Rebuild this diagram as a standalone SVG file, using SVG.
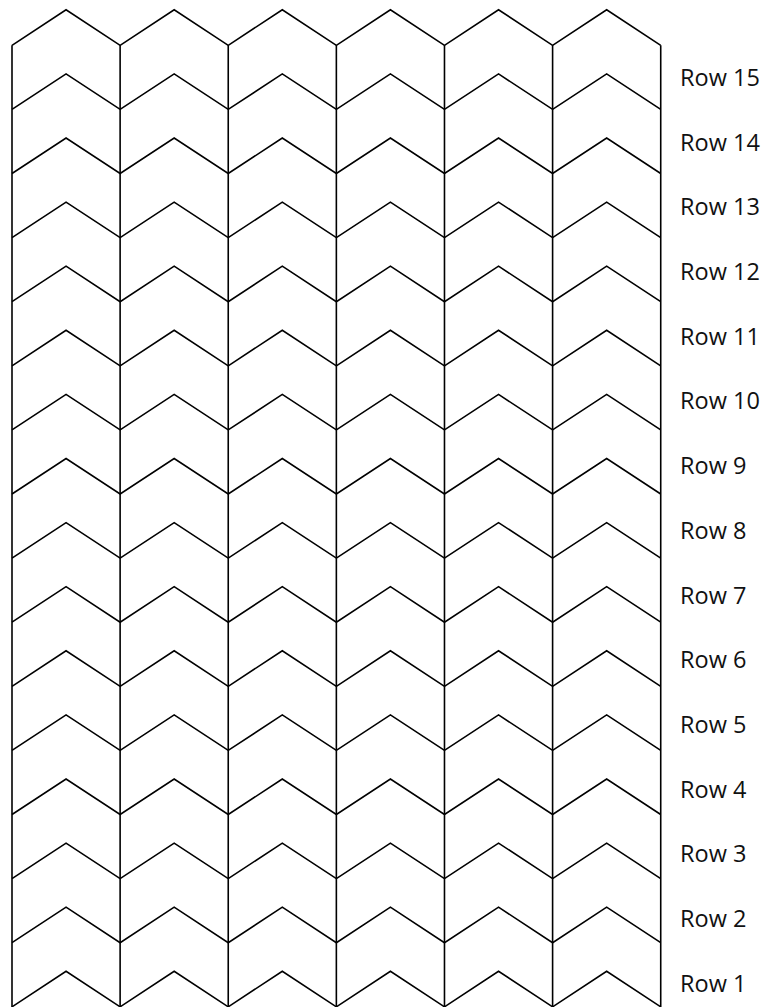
<svg xmlns="http://www.w3.org/2000/svg" xmlns:xlink="http://www.w3.org/1999/xlink" width="769" height="1007" viewBox="0 0 769 1007">
<style>
.ln{fill:none;stroke:#000;stroke-width:1.6;stroke-linejoin:miter}
.lbl{font-family:"Open Sans","DejaVu Sans",sans-serif;font-size:23.5px;fill:#111}
</style>
<defs>
<polyline id="chev" class="ln" points="12,0 66.06,-35.5 120.12,0 174.18,-35.5 228.24,0 282.3,-35.5 336.36,0 390.42,-35.5 444.48,0 498.54,-35.5 552.6,0 606.66,-35.5 660.72,0"/>
</defs>
<rect width="769" height="1007" fill="#fff"/>
<g id="verticals" class="ln">
<line x1="12" y1="45.3" x2="12" y2="1007"/>
<line x1="120.12" y1="45.3" x2="120.12" y2="1007"/>
<line x1="228.24" y1="45.3" x2="228.24" y2="1007"/>
<line x1="336.36" y1="45.3" x2="336.36" y2="1007"/>
<line x1="444.48" y1="45.3" x2="444.48" y2="1007"/>
<line x1="552.6" y1="45.3" x2="552.6" y2="1007"/>
<line x1="660.72" y1="45.3" x2="660.72" y2="1007"/>
</g>
<g id="chevrons">
<use xlink:href="#chev" y="45.3"/>
<use xlink:href="#chev" y="109.4"/>
<use xlink:href="#chev" y="173.5"/>
<use xlink:href="#chev" y="237.6"/>
<use xlink:href="#chev" y="301.7"/>
<use xlink:href="#chev" y="365.8"/>
<use xlink:href="#chev" y="429.9"/>
<use xlink:href="#chev" y="494.0"/>
<use xlink:href="#chev" y="558.1"/>
<use xlink:href="#chev" y="622.2"/>
<use xlink:href="#chev" y="686.3"/>
<use xlink:href="#chev" y="750.4"/>
<use xlink:href="#chev" y="814.5"/>
<use xlink:href="#chev" y="878.6"/>
<use xlink:href="#chev" y="942.7"/>
<use xlink:href="#chev" y="1006.8"/>
</g>
<g id="labels" class="lbl">
<text x="680" y="86">Row 15</text>
<text x="680" y="150.7">Row 14</text>
<text x="680" y="215.4">Row 13</text>
<text x="680" y="280.1">Row 12</text>
<text x="680" y="344.8">Row 11</text>
<text x="680" y="409.4">Row 10</text>
<text x="680" y="474.1">Row 9</text>
<text x="680" y="538.8">Row 8</text>
<text x="680" y="603.5">Row 7</text>
<text x="680" y="668.2">Row 6</text>
<text x="680" y="732.9">Row 5</text>
<text x="680" y="797.6">Row 4</text>
<text x="680" y="862.3">Row 3</text>
<text x="680" y="927.0">Row 2</text>
<text x="680" y="991.7">Row 1</text>
</g>
</svg>
